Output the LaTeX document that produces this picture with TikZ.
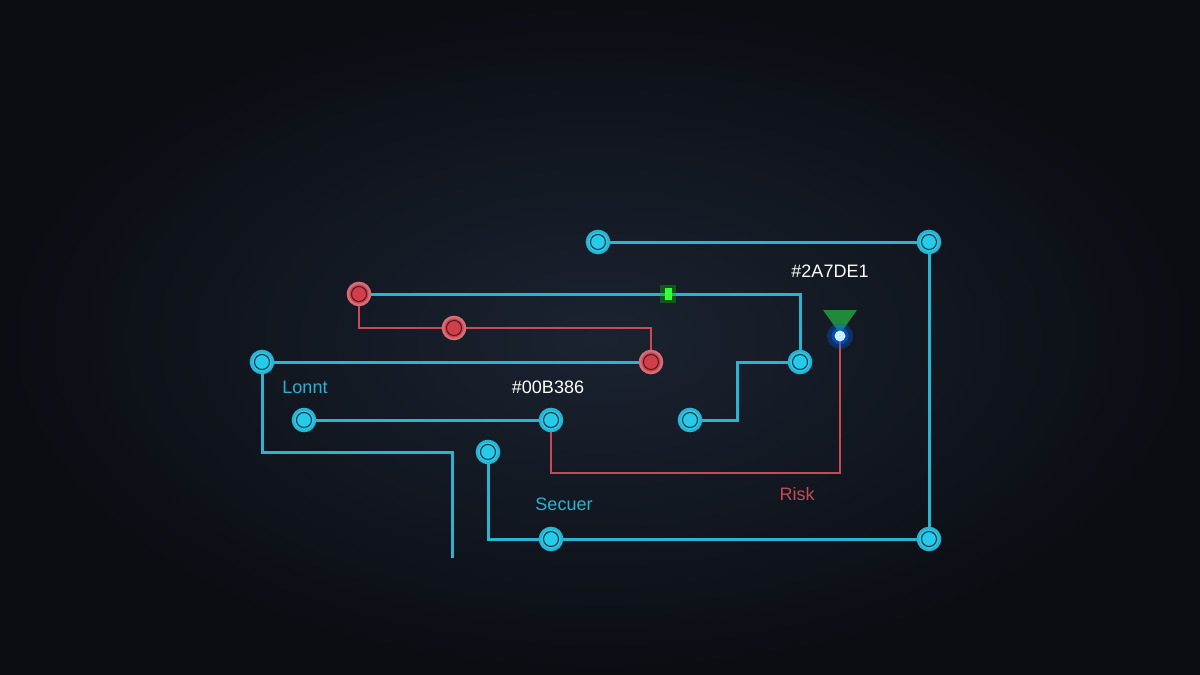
\documentclass[tikz,border=0pt]{standalone}
\usepackage{fontspec}
\setmainfont{Liberation Sans}
\definecolor{bgin}{HTML}{1B2331}
\definecolor{bgout}{HTML}{0A0D12}
\definecolor{cyanw}{HTML}{2AB4D4}
\definecolor{cyanf}{HTML}{27CBEA}
\definecolor{redw}{HTML}{C84A55}
\definecolor{redf}{HTML}{D23E4A}
\definecolor{greenc}{HTML}{1F8A3A}
\tikzset{
  wire/.style={cyanw, line width=3pt},
  rwire/.style={redw, line width=2.6pt},
  pin/.style={circle, draw=cyanw, fill=cyanf, line width=2.6pt, minimum size=22pt, inner sep=0pt,
    path picture={\draw[bgout!80!cyanw, line width=1pt] (path picture bounding box.center) circle (7.5pt);}},
  rpin/.style={circle, draw=redw!80!white, fill=redf, line width=2.6pt, minimum size=22pt, inner sep=0pt,
    path picture={\draw[bgout!70!redw, line width=1pt] (path picture bounding box.center) circle (7.5pt);}},
  lbl/.style={font=\fontsize{18pt}{20pt}\selectfont}
}
\begin{document}
\begin{tikzpicture}[x=1pt,y=-1pt]
    \shade[inner color=bgin, outer color=bgout] (0,0) rectangle (1200,675);
    \useasboundingbox (0,0) rectangle (1200,675);

    %Wires
    \coordinate (k1) at (800,294);
    \coordinate (k2) at (359,328);
    \coordinate (k3) at (651,328);
    \coordinate (k4) at (262,452);
    \coordinate (k5) at (452,452);
    \coordinate (k6) at (452,558);
    \coordinate (k7) at (551,473);
    \coordinate (k8) at (840,473);
    \coordinate (k9) at (737,420);
    \coordinate (k10) at (737,362);
    \coordinate (k11) at (488,539);

    \draw[wire] (359,294) -- (k1) -- (800,362);
    \draw[rwire] (359,294) -- (k2) -- (k3) -- (651,362);
    \draw[wire] (262,362) -- (651,362);
    \draw[wire] (262,362) -- (k4) -- (k5) -- (k6);
    \draw[wire] (304,420) -- (551,420);
    \draw[wire] (690,420) -- (k9) -- (k10) -- (800,362);
    \draw[wire] (598,242) -- (929,242) -- (929,539) -- (551,539);
    \draw[wire] (488,452) -- (k11) -- (551,539);
    \draw[rwire] (551,420) -- (k7) -- (k8) -- (840,336);

    %Pins
    \node[pin] (a) at (598,242) {};
    \node[pin] (b) at (929,242) {};
    \node[pin] (c) at (800,362) {};
    \node[pin] (d) at (262,362) {};
    \node[pin] (e) at (304,420) {};
    \node[pin] (f) at (551,420) {};
    \node[pin] (g) at (690,420) {};
    \node[pin] (h) at (488,452) {};
    \node[pin] (i) at (551,539) {};
    \node[pin] (j) at (929,539) {};
    \node[rpin] (r1) at (359,294) {};
    \node[rpin] (r2) at (454,328) {};
    \node[rpin] (r3) at (651,362) {};

    %Lamp
    \fill[greenc] (823,310) -- (857,310) -- (840,334) -- cycle;
    \node[circle, fill=blue!60!cyan, opacity=0.3, minimum size=26pt, inner sep=0pt] at (840,336) {};
    \node[circle, fill=blue!60!cyan, opacity=0.5, minimum size=17pt, inner sep=0pt] at (840,336) {};
    \node[circle, fill=cyan!20!white, minimum size=11pt, inner sep=0pt] (lamp) at (840,336) {};

    %Led
    \node[fill=green!70!black, opacity=0.4, minimum width=16pt, minimum height=18pt, inner sep=0pt] at (668,294) {};
    \node[fill=green!80!white, minimum width=7pt, minimum height=12pt, inner sep=0pt] (led) at (668,294) {};

    %Labels
    \node[lbl, white] (t1) at (830,271) {\#2A7DE1};
    \node[lbl, white] (t2) at (548,387) {\#00B386};
    \node[lbl, cyanw] (t3) at (305,387) {Lonnt};
    \node[lbl, cyanw] (t4) at (564,504) {Secuer};
    \node[lbl, redw] (t5) at (797,494) {Risk};
\end{tikzpicture}
\end{document}
